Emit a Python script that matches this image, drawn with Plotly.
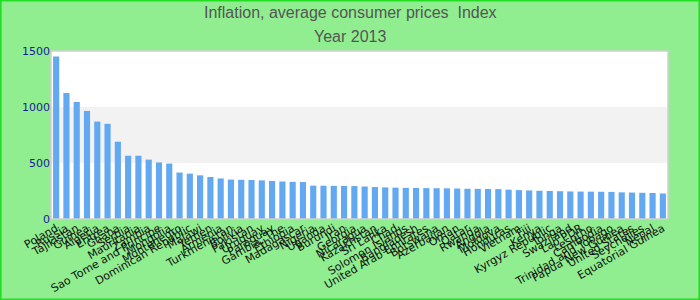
import plotly.graph_objects as go

countries = ["Poland", "Russia", "Tajikistan", "Guinea", "Algeria", "Eritrea", "Ghana", "Serbia",
             "Mauritania", "Zambia", "Sao Tome and Principe", "Mongolia", "Montenegro",
             "Dominican Republic", "Malawi", "Yemen", "Armenia", "Turkmenistan", "Bolivia",
             "Pakistan", "Uruguay", "Paraguay", "Gambia, The", "Ethiopia", "Madagascar",
             "Nigeria", "Uganda", "Burundi", "Iran", "Georgia", "Nicaragua", "Kazakhstan",
             "Sri Lanka", "Chad", "Solomon Islands", "Bangladesh", "United Arab Emirates",
             "Botswana", "Azerbaijan", "Oman", "Qatar", "Rwanda", "Angola", "Moldova",
             "Honduras", "Vietnam", "Fiji", "Kenya", "Kyrgyz Republic", "Tonga", "Swaziland",
             "Lao PDR", "Lesotho", "Cambodia", "Trinidad and Tobago", "Papua New Guinea",
             "United States", "Seychelles", "Nepal", "Equatorial Guinea"]

values = [1450, 1125, 1045, 965, 870, 850, 690, 565, 565, 530, 505, 495, 415, 405, 390, 375, 362,
          352, 350, 348, 345,
          340, 335, 332, 330,
          298, 297, 296, 295, 294, 290,
          285, 282, 280,
          278, 277, 276, 275, 274, 272, 270, 269, 268, 267,
          262, 258, 255, 252,
          250, 248, 246, 245, 244, 243, 242,
          238, 236, 234, 232, 228]

y_ticks = [0, 500, 1000, 1500]
bands = [(500, 1000)]
title_lines = ["Inflation, average consumer prices  Index", "Year 2013"]

fig = go.Figure(go.Bar(x=countries, y=values, marker_color="#63a9f2", marker_line_width=0))

shapes = []
for lo, hi in bands:
    shapes.append(dict(type="rect", xref="paper", yref="y", x0=0, x1=1, y0=lo, y1=hi,
                       fillcolor="#f2f2f2", line_width=0, layer="below"))
pw, ph = 617, 168
shapes.append(dict(type="rect", xref="paper", yref="paper",
                   x0=-51 / pw + 0.001, x1=1 + 32 / pw - 0.001,
                   y0=-81 / ph + 0.003, y1=1 + 51 / ph - 0.003,
                   line=dict(color="#22dd22", width=2), fillcolor="rgba(0,0,0,0)"))
shapes.append(dict(type="rect", xref="paper", yref="paper", x0=0, x1=1, y0=0, y1=1,
                   line=dict(color="#d0d0d0", width=1.5), fillcolor="rgba(0,0,0,0)"))

title_font = dict(family="Liberation Sans, Arial", size=12.5, color="#555555")
annotations = [
    dict(text=title_lines[0], xref="paper", yref="paper", x=(350 - 51) / pw, y=1 + (51 - 13) / ph,
         xanchor="center", yanchor="middle", showarrow=False, font=dict(title_font, size=16)),
    dict(text=title_lines[1], xref="paper", yref="paper", x=(350 - 51) / pw, y=1 + (51 - 36) / ph,
         xanchor="center", yanchor="middle", showarrow=False, font=dict(title_font, size=16)),
]

fig.update_layout(
    width=700, height=300,
    margin=dict(l=51, r=32, t=51, b=81),
    paper_bgcolor="#90ee90", plot_bgcolor="#ffffff",
    bargap=0.4,
    shapes=shapes,
    annotations=annotations,
    showlegend=False,
    xaxis=dict(tickangle=-30, tickmode="array", tickvals=countries, ticktext=countries,
               tickfont=dict(family="DejaVu Sans", size=11, color="#111111"),
               showgrid=False, ticks="", showline=False, automargin=False),
    yaxis=dict(range=[0, 1500], tickvals=y_ticks, showgrid=False, zeroline=False, automargin=False,
               tickfont=dict(family="DejaVu Sans", size=11, color="#1a1a99"), ticks=""),
)

fig.write_html("out.html")
